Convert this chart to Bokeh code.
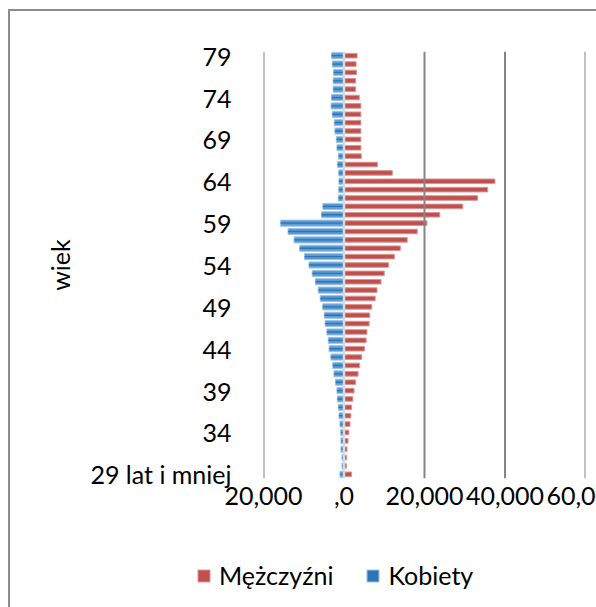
from bokeh.plotting import figure
from bokeh.layouts import column
from bokeh.models import (Range1d, FixedTicker, Span, Legend, LegendItem,
                          ColumnDataSource)
from bokeh.embed import file_html
from bokeh.resources import INLINE

# ---- data ----
ages = ["29 lat i mniej"] + [str(a) for a in range(30, 80)]

men = [1.9, 0.6, 0.67, 0.75, 1.0, 1.2, 1.5, 1.7, 1.9, 2.2,
       2.5, 2.9, 3.5, 3.9, 4.4, 5.1, 5.5, 5.7, 6.25, 6.4,
       6.9, 7.75, 8.2, 9.2, 10.0, 11.1, 12.5, 14.0, 15.7, 18.2,
       20.6, 23.8, 29.5, 33.2, 35.7, 37.5, 12.0, 8.3, 4.3, 4.2,
       4.2, 4.2, 4.2, 4.2, 4.2, 3.8, 2.9, 2.9, 3.1, 3.0, 3.25]

women = [1.0, 0.5, 0.5, 0.75, 0.75, 0.8, 1.0, 1.25, 1.4, 1.65,
         1.75, 2.1, 2.5, 2.8, 3.25, 3.7, 3.9, 4.25, 4.7, 4.9,
         5.3, 5.9, 6.4, 7.1, 7.9, 8.7, 9.8, 11.0, 12.4, 13.9,
         15.75, 5.6, 5.25, 1.4, 1.3, 1.25, 1.3, 1.6, 1.4, 1.75,
         1.9, 2.25, 2.4, 2.9, 3.2, 3.1, 2.7, 2.7, 2.6, 2.9, 3.1]

x_ticks = [-20, 0, 20, 40, 60]
x_tick_labels = ["20,000", ",0", "20,000", "40,000", "60,000"]
x_grid_lines = [-20, 20, 40, 60]
y_label_step = 5
series_names = ["Mężczyźni", "Kobiety"]
axis_title = "wiek"

FONT = "Lato"
FS = "25px"
RED, RED_EDGE = "#c0504d", "#d99694"
BLUE, BLUE_EDGE, BLUE_CORE = "#5b9bd5", "#9dc3e6", "#2e75b6"
BORDER = "#8c8c8c"

idx = list(range(len(ages)))
src = ColumnDataSource(dict(y=idx, men=men, women_neg=[-w for w in women]))

p = figure(width=626, height=556, output_backend="svg", toolbar_location=None,
           x_range=Range1d(-20, 60), y_range=Range1d(-0.5, len(ages) - 0.5),
           min_border_left=263, min_border_right=41, min_border_top=51,
           min_border_bottom=78)
p.frame_align = False
p.outline_line_color = None
p.background_fill_color = "white"
p.border_fill_alpha = 0
p.styles = {
    "background": (f"linear-gradient({BORDER},{BORDER}) 8px 9px / 2px 100% no-repeat, "
                   f"linear-gradient({BORDER},{BORDER}) 8px 9px / 100% 2px no-repeat, "
                   "white"),
}

# grid lines
for gx in x_grid_lines:
    p.add_layout(Span(location=gx, dimension="height", line_color="#868686",
                      line_width=2))
p.add_layout(Span(location=0, dimension="height", line_color="#d9d9d9",
                  line_width=2.5))

# bars
p.hbar(y="y", left=0, right="men", height=0.55, source=src,
       fill_color=RED, line_color=RED_EDGE, line_width=1)
p.hbar(y="y", left="women_neg", right=0, height=0.72, source=src,
       fill_color=BLUE, line_color=BLUE_EDGE, line_width=1)
p.hbar(y="y", left="women_neg", right=0, height=0.16, source=src,
       fill_color=BLUE_CORE, line_color=None)

p.xgrid.grid_line_color = None
p.ygrid.grid_line_color = None

# x axis
p.xaxis.ticker = FixedTicker(ticks=x_ticks)
p.xaxis.major_label_overrides = {t: l for t, l in zip(x_ticks, x_tick_labels)}
p.xaxis.axis_line_color = None
p.xaxis.major_tick_line_color = None
p.xaxis.minor_tick_line_color = None
p.xaxis.major_label_text_font = FONT
p.xaxis.major_label_text_font_size = FS
p.xaxis.major_label_text_color = "black"
p.xaxis.major_label_standoff = 2

# y axis
yt = idx[::y_label_step]
p.yaxis.ticker = FixedTicker(ticks=yt)
p.yaxis.major_label_overrides = {i: ages[i] for i in yt}
p.yaxis.axis_line_color = None
p.yaxis.major_tick_line_color = None
p.yaxis.minor_tick_line_color = None
p.yaxis.major_label_text_font = FONT
p.yaxis.major_label_text_font_size = FS
p.yaxis.major_label_text_color = "black"
p.yaxis.major_label_standoff = 26
p.yaxis.axis_label = axis_title
p.yaxis.axis_label_text_font = FONT
p.yaxis.axis_label_text_font_size = FS
p.yaxis.axis_label_text_font_style = "normal"
p.yaxis.axis_label_text_color = "black"
p.yaxis.axis_label_standoff = 12

# ---- legend strip (bars drawn off-range; only their legend swatches show) ----
lf = figure(width=596, height=51, output_backend="svg", toolbar_location=None,
            x_axis_type=None, y_axis_type=None,
            x_range=Range1d(1000, 1001), y_range=Range1d(1000, 1001),
            min_border=0)
lf.frame_align = False
lf.outline_line_color = None
lf.background_fill_alpha = 0
lf.border_fill_alpha = 0
lf.xgrid.grid_line_color = None
lf.ygrid.grid_line_color = None
lf.styles = {
    "background": (f"linear-gradient({BORDER},{BORDER}) 8px 0px / 2px 100% no-repeat, "
                   "white"),
}
lr_men = lf.hbar(y="y", left=0, right="men", height=0.55, source=src,
                 fill_color=RED, line_color=RED_EDGE, line_width=1)
lr_w = lf.hbar(y="y", left="women_neg", right=0, height=0.72, source=src,
               fill_color=BLUE_CORE, line_color=BLUE_EDGE, line_width=1)

legend = Legend(items=[LegendItem(label=series_names[0], renderers=[lr_men]),
                       LegendItem(label=series_names[1], renderers=[lr_w])],
                orientation="horizontal", location=(196, 17),
                glyph_width=15, glyph_height=15, label_standoff=8, spacing=32,
                padding=0, margin=0, border_line_color=None,
                background_fill_alpha=0,
                label_text_font=FONT, label_text_font_size=FS,
                label_text_color="black")
lf.add_layout(legend, "center")

layout = column(p, lf, spacing=0)
open("out.html", "w").write(file_html(layout, INLINE))
